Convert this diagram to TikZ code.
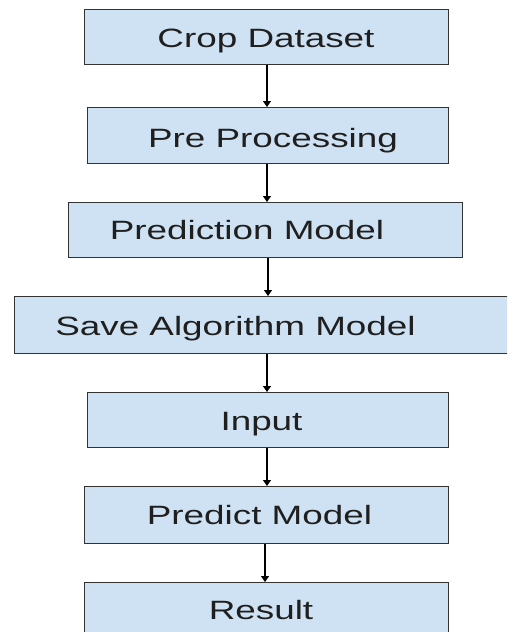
\documentclass[tikz,border=0pt]{standalone}
\usepackage{fontspec}
\usetikzlibrary{arrows.meta}
\newfontfamily\boxfont[FakeStretch=1.39]{Liberation Sans}
\definecolor{boxfill}{HTML}{CFE2F3}
\definecolor{boxline}{HTML}{333333}
\begin{document}
\begin{tikzpicture}[x=1pt,y=-1pt,
  flowbox/.style={draw=boxline,fill=boxfill,line width=1.3pt,rectangle,inner sep=0pt,anchor=north west},
  flowtext/.style={inner sep=0pt,anchor=base,font=\boxfont\fontsize{26.5}{30}\selectfont,text=black!88},
  arr/.style={line width=1.1pt,-{Triangle[length=6pt,width=8pt]}}]
\clip (0,0) rectangle (507,632);
\useasboundingbox (0,0) rectangle (507,632);
\fill[white] (0,0) rectangle (507,632);
% boxes
\node[flowbox,minimum width=364pt,minimum height=55pt] (b1) at (84,9) {};
\node[flowbox,minimum width=361pt,minimum height=56pt] (b2) at (87,107) {};
\node[flowbox,minimum width=394pt,minimum height=55pt] (b3) at (68,202) {};
\node[flowbox,minimum width=510pt,minimum height=57pt] (b4) at (14,296) {};
\node[flowbox,minimum width=361pt,minimum height=55pt] (b5) at (87,392) {};
\node[flowbox,minimum width=364pt,minimum height=57pt] (b6) at (84,486) {};
\node[flowbox,minimum width=364pt,minimum height=58pt] (b7) at (84,582) {};
% texts (baseline positions)
\node[flowtext] (t1) at (266,47) {Crop Dataset};
\node[flowtext] (t2) at (273,147) {Pre Processing};
\node[flowtext] (t3) at (247,239) {Prediction Model};
\node[flowtext] (t4) at (235.5,335) {Save Algorithm Model};
\node[flowtext] (t5) at (261.5,430) {Input};
\node[flowtext] (t6) at (259.5,524) {Predict Model};
\node[flowtext] (t7) at (261,619) {Result};
% arrows
\draw[arr] (b1.south -| 267,0) -- (b2.north -| 267,0);
\draw[arr] (b2.south -| 267,0) -- (b3.north -| 267,0);
\draw[arr] (b3.south -| 268,0) -- (b4.north -| 268,0);
\draw[arr] (b4.south -| 267,0) -- (b5.north -| 267,0);
\draw[arr] (b5.south -| 267,0) -- (b6.north -| 267,0);
\draw[arr] (b6.south -| 265,0) -- (b7.north -| 265,0);
\end{tikzpicture}
\end{document}
